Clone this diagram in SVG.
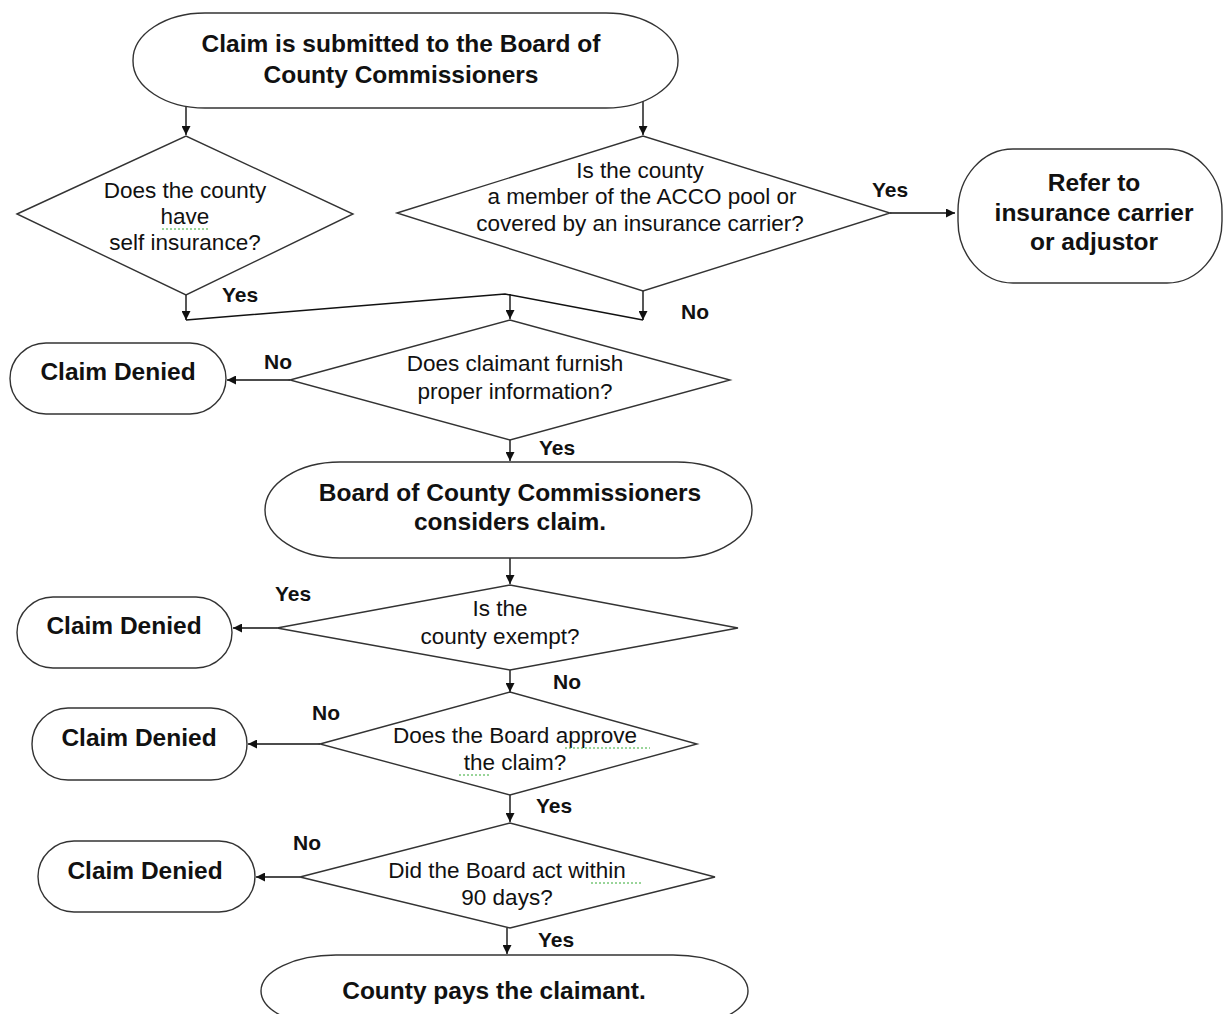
<svg xmlns="http://www.w3.org/2000/svg" width="1224" height="1014" viewBox="0 0 1224 1014">
<defs>
<marker id="ah" viewBox="0 0 10 10" refX="10" refY="5" markerWidth="9" markerHeight="9" markerUnits="userSpaceOnUse" orient="auto">
<path d="M0,0 L10,5 L0,10 z" fill="#111"/>
</marker>
<style>
.shape{fill:#fff;stroke:#333;stroke-width:1.4}
.t{font-family:"Liberation Sans",Arial,sans-serif;font-weight:bold;font-size:24.5px;fill:#111;text-anchor:middle}
.d{font-family:"Liberation Sans",Arial,sans-serif;font-size:22.5px;fill:#111;text-anchor:middle}
.l{font-family:"Liberation Sans",Arial,sans-serif;font-weight:bold;font-size:21px;fill:#111}
.c{fill:none;stroke:#111;stroke-width:1.4}
.sq{fill:none;stroke:#3a3;stroke-width:1;stroke-dasharray:2 2}
</style>
</defs>
<rect width="1224" height="1014" fill="#fff"/>

<g id="connectors">
<line class="c" x1="186" y1="102" x2="186" y2="135" marker-end="url(#ah)"/>
<line class="c" x1="643" y1="98" x2="643" y2="135" marker-end="url(#ah)"/>
<line class="c" x1="890" y1="213" x2="955" y2="213" marker-end="url(#ah)"/>
<line class="c" x1="186" y1="295" x2="186" y2="320" marker-end="url(#ah)"/>
<line class="c" x1="643" y1="291" x2="643" y2="320" marker-end="url(#ah)"/>
<polyline class="c" points="186,320 505,294 643,320"/>
<line class="c" x1="510" y1="294" x2="510" y2="319" marker-end="url(#ah)"/>
<line class="c" x1="290" y1="380" x2="227" y2="380" marker-end="url(#ah)"/>
<line class="c" x1="510" y1="440" x2="510" y2="461" marker-end="url(#ah)"/>
<line class="c" x1="510" y1="558" x2="510" y2="584" marker-end="url(#ah)"/>
<line class="c" x1="277" y1="628" x2="233" y2="628" marker-end="url(#ah)"/>
<line class="c" x1="510" y1="670" x2="510" y2="692" marker-end="url(#ah)"/>
<line class="c" x1="320" y1="744" x2="248" y2="744" marker-end="url(#ah)"/>
<line class="c" x1="510" y1="795" x2="510" y2="822" marker-end="url(#ah)"/>
<line class="c" x1="300" y1="877" x2="256" y2="877" marker-end="url(#ah)"/>
<line class="c" x1="507" y1="928" x2="507" y2="954" marker-end="url(#ah)"/>
<text class="l" x="222" y="302">Yes</text>
<text class="l" x="872" y="197">Yes</text>
<text class="l" x="681" y="319">No</text>
<text class="l" x="264" y="369">No</text>
<text class="l" x="539" y="455">Yes</text>
<text class="l" x="275" y="601">Yes</text>
<text class="l" x="553" y="689">No</text>
<text class="l" x="312" y="720">No</text>
<text class="l" x="536" y="813">Yes</text>
<text class="l" x="293" y="850">No</text>
<text class="l" x="538" y="947">Yes</text>
</g>

<g id="start">
<rect class="shape" x="133" y="13" width="545" height="95" rx="72" ry="47"/>
<text class="t" x="401" y="52">Claim is submitted to the Board of</text>
<text class="t" x="401" y="83">County Commissioners</text>
</g>

<g id="q-self-insurance">
<polygon class="shape" points="17,214 186,136 353,214 186,295"/>
<text class="d" x="185" y="198">Does the county</text>
<text class="d" x="185" y="224">have</text>
<path class="sq" d="M162,229 H208"/>
<text class="d" x="185" y="250">self insurance?</text>
</g>

<g id="q-acco">
<polygon class="shape" points="397,213 643,136 890,213 643,291"/>
<text class="d" x="640" y="178">Is the county</text>
<text class="d" x="642" y="204">a member of the ACCO pool or</text>
<text class="d" x="640" y="231">covered by an insurance carrier?</text>
</g>

<g id="refer">
<rect class="shape" x="958" y="149" width="264" height="134" rx="55" ry="62"/>
<text class="t" x="1094" y="191">Refer to</text>
<text class="t" x="1094" y="221">insurance carrier</text>
<text class="t" x="1094" y="250">or adjustor</text>
</g>

<g id="q-furnish">
<polygon class="shape" points="290,380 510,320 730,380 510,440"/>
<text class="d" x="515" y="371">Does claimant furnish</text>
<text class="d" x="515" y="399">proper information?</text>
</g>

<g id="denied-1">
<rect class="shape" x="10" y="343" width="216" height="71" rx="36" ry="36"/>
<text class="t" x="118" y="380">Claim Denied</text>
</g>

<g id="considers">
<rect class="shape" x="265" y="462" width="487" height="96" rx="75" ry="48"/>
<text class="t" x="510" y="501">Board of County Commissioners</text>
<text class="t" x="510" y="530">considers claim.</text>
</g>

<g id="q-exempt">
<polygon class="shape" points="277,628 510,585 738,628 510,670"/>
<text class="d" x="500" y="616">Is the</text>
<text class="d" x="500" y="644">county exempt?</text>
</g>

<g id="denied-2">
<rect class="shape" x="17" y="597" width="215" height="71" rx="36" ry="36"/>
<text class="t" x="124" y="634">Claim Denied</text>
</g>

<g id="q-approve">
<polygon class="shape" points="320,744 510,692 697,744 510,795"/>
<text class="d" x="515" y="743">Does the Board approve</text>
<path class="sq" d="M565,748 H650"/>
<text class="d" x="515" y="770">the claim?</text>
<path class="sq" d="M459,775 H491"/>
</g>

<g id="denied-3">
<rect class="shape" x="32" y="708" width="215" height="72" rx="36" ry="36"/>
<text class="t" x="139" y="746">Claim Denied</text>
</g>

<g id="q-90days">
<polygon class="shape" points="300,877 510,823 715,877 510,928"/>
<text class="d" x="507" y="878">Did the Board act within</text>
<path class="sq" d="M591,883 H641"/>
<text class="d" x="507" y="905">90 days?</text>
</g>

<g id="denied-4">
<rect class="shape" x="38" y="841" width="217" height="71" rx="36" ry="36"/>
<text class="t" x="145" y="879">Claim Denied</text>
</g>

<g id="pays">
<rect class="shape" x="261" y="955" width="487" height="72" rx="75" ry="40"/>
<text class="t" x="494" y="999">County pays the claimant.</text>
</g>
</svg>
